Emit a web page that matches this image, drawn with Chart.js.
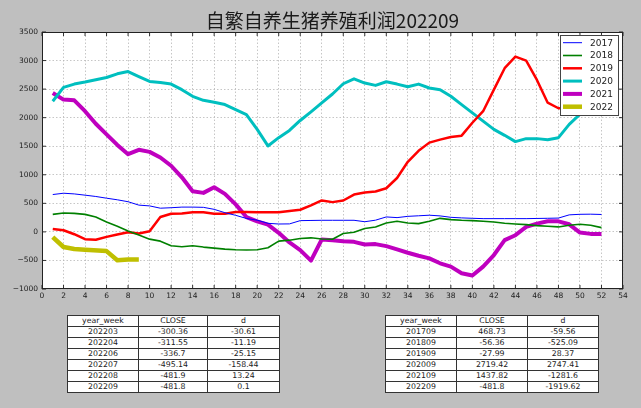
<!DOCTYPE html>
<html><head><meta charset="utf-8">
<script src="https://cdn.jsdelivr.net/npm/chart.js@4"></script>
<style>
html,body{margin:0;padding:0;background:#bfbfbf;}
#wrap{position:relative;width:641px;height:408px;overflow:hidden;background:#bfbfbf;}
#c{position:absolute;left:0;top:0;}
table.t{position:absolute;border-collapse:collapse;font-family:'DejaVu Sans',sans-serif;font-size:7.8px;color:#222;background:#fff;table-layout:fixed;}
table.t td{border:1px solid #333;text-align:center;height:10px;padding:0;line-height:10px;white-space:nowrap;}
</style></head>
<body>
<div id="wrap">
<canvas id="c" width="641" height="408"></canvas>
<table class="t" id="t1" style="left:67px;top:315px;width:212px"></table>
<table class="t" id="t2" style="left:385px;top:315px;width:213px"></table>
</div>
<script>
// ---- data ----
const titleText = '自繁自养生猪养殖利润202209';
const weeks = [1,2,3,4,5,6,7,8,9,10,11,12,13,14,15,16,17,18,19,20,21,22,23,24,25,26,27,28,29,30,31,32,33,34,35,36,37,38,39,40,41,42,43,44,45,46,47,48,49,50,51,52];
const weeks2022 = [1,2,3,4,6,7,8,9];
const y2017 = [654,677,665,643,620,590,562,528,468.73,455,415,423,434,434,430,395,336,290,235,205,150,138,140,197,200,203,203,203,203,178,205,262,250,272,282,292,280,255,245,238,232,232,232,232,232,235,238,242,298,308,310,305];
const y2018 = [307,330,324,307,260,174,98,17,-56.36,-127,-162,-243,-261,-243,-266,-284,-301,-313,-318,-313,-278,-162,-145,-116,-104,-125,-130,-29,-6,58,87,156,185,156,145,185,237,214,203,197,185,174,150,139,127,110,98,87,116,133,116,75];
const y2019 = [52,29,-41,-127,-139,-87,-46,-6,-27.99,12,260,318,324,342,342,318,318,347,347,342,342,342,365,388,463,550,521,550,654,689,706,764,944,1227,1419,1563,1615,1662,1685,1911,2113,2490,2866,3069,3000,2660,2262,2165,2170,2210,2260,2300];
const y2020 = [2287,2530,2588,2623,2663,2704,2768,2808,2719.42,2634,2617,2588,2490,2374,2304,2270,2229,2142,2055,1795,1505,1650,1777,1951,2102,2258,2414,2594,2681,2606,2565,2629,2588,2542,2588,2519,2490,2374,2229,2084,1940,1795,1691,1581,1633,1633,1615,1650,1882,2060,2200,2320];
const y2021 = [2432,2316,2304,2113,1893,1708,1523,1361,1437.82,1401,1303,1158,955,712,683,782,666,481,260,185,127,-17,-185,-318,-504,-133,-145,-162,-174,-220,-214,-249,-307,-365,-417,-463,-550,-608,-724,-764,-608,-405,-145,-58,87,145,185,185,133,-12,-35,-35];
const y2022 = [-90,-265,-300.36,-311.55,-336.7,-495.14,-481.9,-481.8];
const seriesNames = ['2017','2018','2019','2020','2021','2022'];
const xTicks = {min:0, max:54, step:2};
const yTicks = {min:-1000, max:3500, step:500};
const tableHeader = ['year_week','CLOSE','d'];
const table1Weeks = ['202203','202204','202206','202207','202208','202209'];
const table1Close = ['-300.36','-311.55','-336.7','-495.14','-481.9','-481.8'];
const table1D = ['-30.61','-11.19','-25.15','-158.44','13.24','0.1'];
const table2Weeks = ['201709','201809','201909','202009','202109','202209'];
const table2Close = ['468.73','-56.36','-27.99','2719.42','1437.82','-481.8'];
const table2D = ['-59.56','-525.09','28.37','2747.41','-1281.6','-1919.62'];

// ---- tables ----
function buildTable(id, cols, widths, c1, c2, c3){
  const t = document.getElementById(id);
  let h = '<colgroup>' + widths.map(w=>'<col style="width:'+w+'px">').join('') + '</colgroup>';
  h += '<tr>' + cols.map(c=>'<td>'+c+'</td>').join('') + '</tr>';
  for(let i=0;i<c1.length;i++) h += '<tr><td>'+c1[i]+'</td><td>'+c2[i]+'</td><td>'+c3[i]+'</td></tr>';
  t.innerHTML = h;
}
buildTable('t1', tableHeader, [71,69,72], table1Weeks, table1Close, table1D);
buildTable('t2', tableHeader, [71,71,71], table2Weeks, table2Close, table2D);

// ---- chart ----
const colors = ['#0000ff','#008000','#ff0000','#00bfbf','#bf00bf','#bfbf00'];
const widths = [1,1.6,2.5,3,4,4.5];
const ys = [y2017,y2018,y2019,y2020,y2021,y2022];
const datasets = ys.map((arr,k)=>{
  const xs = k===5 ? weeks2022 : weeks;
  return {
    label: seriesNames[k],
    data: arr.map((v,i)=>({x:xs[i], y:v})),
    borderColor: colors[k],
    backgroundColor: colors[k],
    borderWidth: widths[k],
    pointRadius: 0,
    tension: 0,
    fill: false,
    borderCapStyle: 'butt',
    borderJoinStyle: 'round'
  };
});

const frame = {
  id:'frame',
  beforeDraw(chart){
    const a = chart.chartArea, ctx = chart.ctx;
    ctx.save();
    ctx.fillStyle = '#fff';
    ctx.fillRect(a.left, a.top, a.right-a.left, a.bottom-a.top);
    ctx.restore();
  },
  afterDraw(chart){
    const a = chart.chartArea, ctx = chart.ctx;
    const xs = chart.scales.x, ys2 = chart.scales.y;
    ctx.save();
    // title
    ctx.fillStyle = '#1a1a1a';
    ctx.font = '19px "Noto Sans CJK SC"';
    ctx.textAlign = 'center';
    ctx.textBaseline = 'alphabetic';
    ctx.fillText(titleText, (a.left+a.right)/2, 28);
    // tick marks (inward)
    ctx.strokeStyle = '#000';
    ctx.lineWidth = 0.8;
    ctx.beginPath();
    xs.ticks.forEach(t=>{
      const px = xs.getPixelForValue(t.value);
      ctx.moveTo(px, a.bottom); ctx.lineTo(px, a.bottom-4);
      ctx.moveTo(px, a.top); ctx.lineTo(px, a.top+4);
    });
    ys2.ticks.forEach(t=>{
      const py = ys2.getPixelForValue(t.value);
      ctx.moveTo(a.left, py); ctx.lineTo(a.left+4, py);
      ctx.moveTo(a.right, py); ctx.lineTo(a.right-4, py);
    });
    ctx.stroke();
    // frame
    ctx.strokeStyle = '#222';
    ctx.lineWidth = 1;
    ctx.strokeRect(a.left+0.5, a.top+0.5, a.right-a.left-1, a.bottom-a.top-1);
    // legend
    const lx = 560.5, ly = 35.5, lw = 58, lh = 80;
    ctx.fillStyle = '#fff';
    ctx.fillRect(lx, ly, lw, lh);
    ctx.strokeStyle = '#444';
    ctx.lineWidth = 1;
    ctx.strokeRect(lx, ly, lw, lh);
    ctx.font = '9px "DejaVu Sans"';
    ctx.textAlign = 'left';
    ctx.textBaseline = 'middle';
    chart.data.datasets.forEach((ds,i)=>{
      const y = 42.7 + i*12.8;
      ctx.strokeStyle = ds.borderColor;
      ctx.lineWidth = ds.borderWidth;
      ctx.beginPath();
      ctx.moveTo(563, y); ctx.lineTo(582, y);
      ctx.stroke();
      ctx.fillStyle = '#222';
      ctx.fillText(ds.label, 590, y+0.5);
    });
    ctx.restore();
  }
};

const tickFont = {family:'DejaVu Sans', size:7.5};
new Chart(document.getElementById('c'), {
  type:'line',
  data:{datasets},
  options:{
    responsive:false,
    animation:false,
    events:[],
    layout:{padding:{top:32, right:18, left:0, bottom:0}},
    plugins:{legend:{display:false}, title:{display:false}, tooltip:{enabled:false}},
    scales:{
      x:{
        type:'linear', min:xTicks.min, max:xTicks.max,
        afterFit(s){ s.height = 119; },
        ticks:{stepSize:xTicks.step, autoSkip:false, maxRotation:0, color:'#222', font:tickFont, padding:3},
        grid:{color:'#b8b8b8', lineWidth:0.8, drawTicks:false},
        border:{display:false, dash:[1.5,2]}
      },
      y:{
        min:yTicks.min, max:yTicks.max,
        afterFit(s){ s.width = 42; },
        ticks:{stepSize:yTicks.step, color:'#222', font:tickFont, padding:4,
          callback:(v)=>String(v).replace('-', '\u2212')},
        grid:{color:'#b8b8b8', lineWidth:0.8, drawTicks:false},
        border:{display:false, dash:[1.5,2]}
      }
    }
  },
  plugins:[frame]
});
</script>
</body></html>
